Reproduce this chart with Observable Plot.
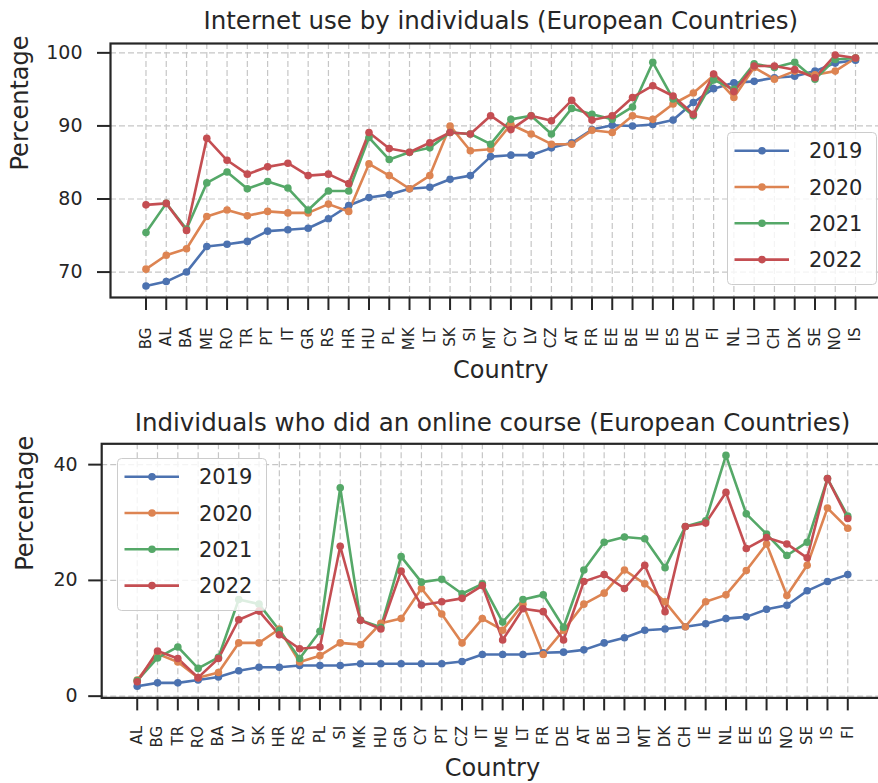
<!DOCTYPE html>
<html>
<head>
<meta charset="utf-8">
<script src="https://cdn.jsdelivr.net/npm/d3@7"></script>
<script src="https://cdn.jsdelivr.net/npm/@observablehq/plot@0.6"></script>
<style>
  body { margin: 0; background: #ffffff; }
  #page { position: relative; width: 878px; height: 783px; overflow: hidden; background: #fff; font-family: "DejaVu Sans", sans-serif; color: #262626; }
  .chart { position: absolute; left: 0; width: 892px; }
  .chart svg { max-width: none !important; }
  .legend { position: absolute; }
</style>
</head>
<body>
<div id="page"></div>
<script>
// ---- Data ----
const years = ["2019", "2020", "2021", "2022"];
const colors = ["#4c72b0", "#dd8452", "#55a868", "#c44e52"];

// Chart 1: Internet use by individuals
const usageCountries = ["BG","AL","BA","ME","RO","TR","PT","IT","GR","RS","HR","HU","PL","MK","LT","SK","SI","MT","CY","LV","CZ","AT","FR","EE","BE","IE","ES","DE","FI","NL","LU","CH","DK","SE","NO","IS"];
const usage2019 = [68.1,68.7,70.0,73.5,73.8,74.2,75.6,75.8,76.0,77.3,79.1,80.2,80.6,81.4,81.6,82.7,83.2,85.8,86.0,86.0,87.0,87.7,89.5,90.1,90.0,90.2,90.8,93.2,95.1,95.9,96.1,96.6,96.8,97.5,98.6,99.0];
const usage2020 = [70.4,72.3,73.2,77.6,78.5,77.7,78.3,78.1,78.1,79.3,78.3,84.8,83.2,81.4,83.2,90.0,86.6,86.8,90.2,88.9,87.5,87.5,89.4,89.1,91.4,90.9,93.0,94.5,96.9,93.9,98.0,96.4,97.5,97.0,97.5,99.3];
const usage2021 = [75.4,79.4,75.9,82.2,83.7,81.4,82.4,81.5,78.5,81.1,81.1,88.4,85.4,86.4,87.0,89.1,88.9,87.5,90.9,91.4,88.9,92.4,91.6,90.9,92.6,98.7,93.7,91.4,96.3,95.0,98.5,98.0,98.7,96.4,99.1,99.3];
const usage2022 = [79.2,79.4,75.7,88.3,85.3,83.4,84.4,84.9,83.2,83.4,82.1,89.1,86.9,86.4,87.7,89.1,88.9,91.4,89.5,91.4,90.7,93.5,90.8,91.4,93.9,95.5,94.1,91.6,97.1,94.7,98.2,98.2,97.7,96.6,99.7,99.3];
const usageTicks = [70, 80, 90, 100];

// Chart 2: Individuals who did an online course
const courseCountries = ["AL","BG","TR","RO","BA","LV","SK","HR","RS","PL","SI","MK","HU","GR","CY","PT","CZ","IT","ME","LT","FR","DE","AT","BE","LU","MT","DK","CH","IE","NL","EE","ES","NO","SE","IS","FI"];
const course2019 = [1.7,2.3,2.3,2.8,3.3,4.4,5.0,5.0,5.3,5.3,5.3,5.6,5.6,5.6,5.6,5.6,6.0,7.2,7.2,7.2,7.5,7.6,8.0,9.2,10.1,11.4,11.6,12.0,12.5,13.4,13.7,15.0,15.7,18.2,19.8,21.0];
const course2020 = [2.8,7.3,5.9,3.2,4.1,9.2,9.2,11.6,5.9,7.0,9.2,8.9,12.6,13.4,18.6,14.2,9.2,13.4,11.4,15.9,7.2,11.4,15.9,17.8,21.8,19.4,16.3,12.0,16.3,17.5,21.7,26.3,17.4,22.6,32.5,29.0];
const course2021 = [2.7,6.6,8.5,4.8,6.7,16.7,15.9,11.4,6.5,11.2,36.0,13.1,11.9,24.1,19.7,20.2,17.7,19.4,12.8,16.7,17.5,11.9,21.8,26.6,27.5,27.2,22.2,29.3,30.3,41.6,31.5,28.0,24.3,26.6,37.6,31.1];
const course2022 = [2.5,7.8,6.5,3.2,6.5,13.2,14.7,10.6,8.2,8.5,25.9,13.1,11.6,21.6,15.7,16.3,16.9,19.1,9.7,15.1,14.6,9.7,19.8,21.0,18.6,22.6,14.6,29.3,29.9,35.2,25.5,27.4,26.3,23.9,37.6,30.7];
const courseTicks = [0, 20, 40];

// ---- Helpers ----
const page = document.getElementById("page");
const ink = "#262626";

function makeChart(cfg) {
  const data = years.flatMap((yr, i) =>
    cfg.countries.map((c, j) => ({country: c, year: yr, value: cfg.series[i][j]})));
  const plot = Plot.plot({
    width: 892,
    height: cfg.height,
    marginLeft: cfg.mL,
    marginRight: cfg.mR,
    marginTop: cfg.mT,
    marginBottom: cfg.mB,
    style: {fontFamily: "DejaVu Sans", color: ink, background: "transparent", overflow: "visible", maxWidth: "none"},
    x: {type: "point", domain: cfg.countries, padding: 1.75, round: false},
    y: {domain: cfg.yDomain},
    color: {domain: years, range: colors},
    marks: [
      Plot.ruleX(cfg.countries, {x: d => d, stroke: "#c6c6c6", strokeWidth: 1.2, strokeDasharray: "6,3"}),
      Plot.ruleY(cfg.ticks, {y: d => d, stroke: "#c6c6c6", strokeWidth: 1.2, strokeDasharray: "6,3"}),
      // tick marks only
      Plot.axisX({tickSize: 13, text: null, label: null, stroke: ink, strokeWidth: 2}),
      Plot.axisY(cfg.ticks, {tickSize: 13, text: null, label: null, stroke: ink, strokeWidth: 2}),
      // tick labels only
      Plot.axisX({tickSize: 0, tickPadding: 0, tickRotate: -90, dy: cfg.xOff, fontSize: 15, label: null}),
      Plot.axisY(cfg.ticks, {tickSize: 0, tickPadding: 0, dx: -cfg.yOff, fontSize: 19, label: null}),
      Plot.line(data, {x: "country", y: "value", stroke: "year", strokeWidth: 2.6}),
      Plot.dot(data, {x: "country", y: "value", fill: "year", r: 3.8}),
      Plot.frame({stroke: ink, strokeWidth: 2.2}),
      Plot.text([cfg.title], {text: d => d, frameAnchor: "top", dy: cfg.titleDy, lineAnchor: "bottom", fontSize: 24.5}),
      Plot.text(["Percentage"], {text: d => d, frameAnchor: "left", rotate: -90, dx: cfg.yLabelDx, lineAnchor: "bottom", fontSize: 24}),
      Plot.text(["Country"], {text: d => d, frameAnchor: "bottom", dy: cfg.xLabelDy, lineAnchor: "bottom", fontSize: 24})
    ]
  });
  const wrap = document.createElement("div");
  wrap.className = "chart";
  wrap.style.top = cfg.top + "px";
  wrap.appendChild(plot);
  page.appendChild(wrap);
}

function makeLegend(cfg) {
  const w = 149, h = 152, rowGap = 36.3, firstRow = 18.7;
  const svg = d3.select(page).append("svg")
    .attr("class", "legend")
    .attr("width", w + 2).attr("height", h + 2)
    .style("left", cfg.left + "px").style("top", cfg.top + "px");
  svg.append("rect").attr("x", 0.5).attr("y", 0.5).attr("width", w).attr("height", h)
    .attr("rx", 4).attr("fill", "rgba(255,255,255,0.8)").attr("stroke", "#cccccc").attr("stroke-width", 1);
  const row = svg.selectAll("g.row").data(years).join("g")
    .attr("transform", (d, i) => `translate(0,${firstRow + i * rowGap})`);
  row.append("line").attr("x1", 7.5).attr("x2", 62).attr("y1", 0).attr("y2", 0)
    .attr("stroke", (d, i) => colors[i]).attr("stroke-width", 2.6);
  row.append("circle").attr("cx", 35).attr("cy", 0).attr("r", 3.8).attr("fill", (d, i) => colors[i]);
  row.append("text").attr("x", 82).attr("y", 0).attr("dy", "0.36em")
    .attr("font-family", "DejaVu Sans").attr("font-size", 21).attr("fill", ink).text(d => d);
}

makeChart({
  countries: usageCountries,
  series: [usage2019, usage2020, usage2021, usage2022],
  yDomain: [66.52, 101.28],
  ticks: usageTicks,
  top: 0, height: 392,
  mL: 110, mR: 1.5, mT: 43, mB: 95,
  xOff: 30, yOff: 28,
  title: "Internet use by individuals (European Countries)",
  titleDy: -14.7, yLabelDx: -82.4, xLabelDy: 80
});

makeChart({
  countries: courseCountries,
  series: [course2019, course2020, course2021, course2022],
  yDomain: [-0.3, 43.6],
  ticks: courseTicks,
  top: 392, height: 391,
  mL: 101.2, mR: 9.2, mT: 51.3, mB: 85.6,
  xOff: 28, yOff: 24,
  title: "Individuals who did an online course (European Countries)",
  titleDy: -13.3, yLabelDx: -68.6, xLabelDy: 78
});

makeLegend({left: 726.5, top: 131.5});
makeLegend({left: 116.5, top: 458});
</script>
</body>
</html>
